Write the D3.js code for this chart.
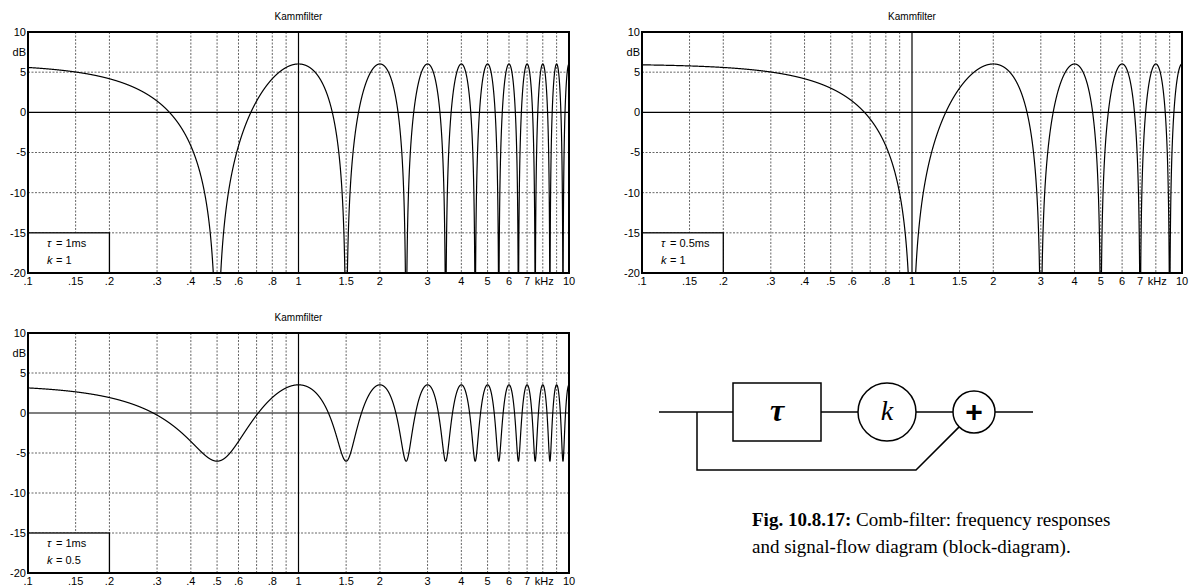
<!DOCTYPE html>
<html>
<head>
<meta charset="utf-8">
<script src="https://cdn.jsdelivr.net/npm/d3@7"></script>
<style>
  html, body { margin: 0; padding: 0; background: #fff; }
  svg { display: block; }
</style>
</head>
<body>
<svg id="chart" width="1191" height="588"></svg>
<script>
// ---------------- data ----------------
const panelTitles = ["Kammfilter", "Kammfilter", "Kammfilter"];
const panelTauMs = [1, 0.5, 1];          // delay time tau in ms
const panelK = [1, 1, 0.5];              // feedforward gain k
const tauLabels = ["= 1ms", "= 0.5ms", "= 1ms"];
const kLabels = ["= 1", "= 1", "= 0.5"];
const xTickValues = [0.1, 0.15, 0.2, 0.3, 0.4, 0.5, 0.6, 0.8, 1, 1.5, 2, 3, 4, 5, 6, 7, 10];
const xTickLabels = [".1", ".15", ".2", ".3", ".4", ".5", ".6", ".8", "1", "1.5", "2", "3", "4", "5", "6", "7", "10"];
const xGridValues = [0.15, 0.2, 0.3, 0.4, 0.5, 0.6, 0.7, 0.8, 0.9, 1.5, 2, 3, 4, 5, 6, 7, 8, 9];
const xUnitLabel = "kHz";
const xUnitAt = 8.1;
const yTickValues = [10, 5, 0, -5, -10, -15, -20];
const yTickLabels = ["10", "5", "0", "-5", "-10", "-15", "-20"];
const yGridValues = [5, -5, -10, -15];
const yUnitLabel = "dB";
const yUnitAt = 7.5;
const captionBold = "Fig. 10.8.17:";
const captionLine1 = " Comb-filter: frequency responses";
const captionLine2 = "and signal-flow diagram (block-diagram).";

// ---------------- layout ----------------
const svg = d3.select("#chart");
const layout = [
  { x0: 28, x1: 569, y0: 32, y1: 273 },
  { x0: 642, x1: 1182, y0: 32, y1: 273 },
  { x0: 28, x1: 569, y0: 333, y1: 573 }
];
const sansFont = "'Liberation Sans', Arial, Helvetica, sans-serif";
const serifFont = "'Liberation Serif', 'Times New Roman', serif";

// frequency sampling (log spaced, kHz)
const nSamples = 8000;
const freqs = d3.range(nSamples + 1).map(i => Math.pow(10, -1 + 2 * i / nSamples));

layout.forEach((L, pi) => {
  const x = d3.scaleLog().domain([0.1, 10]).range([L.x0, L.x1]);
  const y = d3.scaleLinear().domain([-20, 10]).range([L.y1, L.y0]);
  const g = svg.append("g");

  const clipId = "clip" + pi;
  svg.append("defs").append("clipPath").attr("id", clipId)
    .append("rect").attr("x", L.x0).attr("y", L.y0)
    .attr("width", L.x1 - L.x0).attr("height", L.y1 - L.y0);

  // grid
  g.selectAll("line.vg").data(xGridValues).enter().append("line")
    .attr("x1", d => x(d)).attr("x2", d => x(d))
    .attr("y1", L.y0).attr("y2", L.y1)
    .attr("stroke", "#666").attr("stroke-width", 1).attr("stroke-dasharray", "2,1.5");
  g.selectAll("line.hg").data(yGridValues).enter().append("line")
    .attr("x1", L.x0).attr("x2", L.x1)
    .attr("y1", d => y(d)).attr("y2", d => y(d))
    .attr("stroke", "#666").attr("stroke-width", 1).attr("stroke-dasharray", "2,1.5");
  // solid reference lines at 0 dB and 1 kHz
  g.append("line").attr("x1", L.x0).attr("x2", L.x1).attr("y1", y(0)).attr("y2", y(0))
    .attr("stroke", "#000").attr("stroke-width", 1.2);
  g.append("line").attr("x1", x(1)).attr("x2", x(1)).attr("y1", L.y0).attr("y2", L.y1)
    .attr("stroke", "#000").attr("stroke-width", 1.2);

  // legend box
  const lg = g.append("g");
  lg.append("rect").attr("x", L.x0).attr("y", y(-15))
    .attr("width", x(0.2) - L.x0).attr("height", y(-20) - y(-15))
    .attr("fill", "#fff").attr("stroke", "#000").attr("stroke-width", 1.3);
  const tx = L.x0 + 19;
  lg.append("text").attr("x", tx).attr("y", y(-15) + 14)
    .attr("font-family", sansFont).attr("font-size", 11).attr("font-style", "italic").text("τ");
  lg.append("text").attr("x", tx + 9).attr("y", y(-15) + 14)
    .attr("font-family", sansFont).attr("font-size", 11).text(tauLabels[pi]);
  lg.append("text").attr("x", tx).attr("y", y(-15) + 31)
    .attr("font-family", sansFont).attr("font-size", 11).attr("font-style", "italic").text("k");
  lg.append("text").attr("x", tx + 9).attr("y", y(-15) + 31)
    .attr("font-family", sansFont).attr("font-size", 11).text(kLabels[pi]);

  // curve
  const tau = panelTauMs[pi], k = panelK[pi];
  const resp = freqs.map(f => {
    const p = 1 + k * k + 2 * k * Math.cos(2 * Math.PI * f * tau);
    return [f, Math.max(10 * Math.log10(Math.max(p, 1e-12)), -60)];
  });
  g.append("path").datum(resp)
    .attr("clip-path", `url(#${clipId})`)
    .attr("fill", "none").attr("stroke", "#000").attr("stroke-width", 1.2)
    .attr("stroke-linejoin", "round")
    .attr("d", d3.line().x(d => x(d[0])).y(d => y(d[1])));

  // frame
  g.append("rect").attr("x", L.x0).attr("y", L.y0)
    .attr("width", L.x1 - L.x0).attr("height", L.y1 - L.y0)
    .attr("fill", "none").attr("stroke", "#000").attr("stroke-width", 2);

  // x tick labels
  g.selectAll("text.xt").data(xTickValues).enter().append("text")
    .attr("x", d => x(d)).attr("y", L.y1 + 12)
    .attr("text-anchor", "middle")
    .attr("font-family", sansFont).attr("font-size", 11)
    .text((d, i) => xTickLabels[i]);
  g.append("text").attr("x", x(xUnitAt)).attr("y", L.y1 + 12)
    .attr("text-anchor", "middle")
    .attr("font-family", sansFont).attr("font-size", 11).text(xUnitLabel);

  // y tick labels
  g.selectAll("text.yt").data(yTickValues).enter().append("text")
    .attr("x", L.x0 - 2).attr("y", d => y(d)).attr("dy", "0.35em")
    .attr("text-anchor", "end")
    .attr("font-family", sansFont).attr("font-size", 11)
    .text((d, i) => yTickLabels[i]);
  g.append("text").attr("x", L.x0 - 2).attr("y", y(yUnitAt)).attr("dy", "0.35em")
    .attr("text-anchor", "end")
    .attr("font-family", sansFont).attr("font-size", 11).text(yUnitLabel);

  // title
  g.append("text").attr("x", (L.x0 + L.x1) / 2).attr("y", L.y0 - 12)
    .attr("text-anchor", "middle")
    .attr("font-family", sansFont).attr("font-size", 10).text(panelTitles[pi]);
});

// ---------------- block diagram ----------------
const dg = svg.append("g").attr("stroke", "#000").attr("stroke-width", 1.5).attr("fill", "none");
const yc = 412;
const box = { x: 733, y: 383, w: 88, h: 58 };
const kC = { cx: 887, r: 29 };
const sC = { cx: 974, r: 21 };
const tapX = 697, fbY = 470, fbX = 916, outX = 1033, inX = 659;

dg.append("line").attr("x1", inX).attr("x2", box.x).attr("y1", yc).attr("y2", yc);
dg.append("rect").attr("x", box.x).attr("y", box.y).attr("width", box.w).attr("height", box.h);
dg.append("line").attr("x1", box.x + box.w).attr("x2", kC.cx - kC.r).attr("y1", yc).attr("y2", yc);
dg.append("circle").attr("cx", kC.cx).attr("cy", yc).attr("r", kC.r);
dg.append("line").attr("x1", kC.cx + kC.r).attr("x2", sC.cx - sC.r).attr("y1", yc).attr("y2", yc);
dg.append("circle").attr("cx", sC.cx).attr("cy", yc).attr("r", sC.r);
dg.append("line").attr("x1", sC.cx + sC.r).attr("x2", outX).attr("y1", yc).attr("y2", yc);
const ang = Math.atan2(fbY - yc, fbX - sC.cx);
dg.append("polyline").attr("points", [
  [tapX, yc], [tapX, fbY], [fbX, fbY],
  [sC.cx + sC.r * Math.cos(ang), yc + sC.r * Math.sin(ang)]
].map(p => p.join(",")).join(" "));

svg.append("text").attr("x", box.x + box.w / 2).attr("y", yc + 9)
  .attr("text-anchor", "middle").attr("font-family", serifFont)
  .attr("font-size", 32).attr("font-weight", "bold").attr("font-style", "italic").text("τ");
svg.append("text").attr("x", kC.cx).attr("y", yc + 8)
  .attr("text-anchor", "middle").attr("font-family", serifFont)
  .attr("font-size", 28).attr("font-style", "italic").text("k");
svg.append("text").attr("x", sC.cx).attr("y", yc + 10)
  .attr("text-anchor", "middle").attr("font-family", sansFont)
  .attr("font-size", 30).attr("font-weight", "bold").text("+");

// ---------------- caption ----------------
const cap = svg.append("text").attr("x", 752).attr("y", 526)
  .attr("font-family", serifFont).attr("font-size", 19);
cap.append("tspan").attr("font-weight", "bold").text(captionBold);
cap.append("tspan").text(captionLine1);
svg.append("text").attr("x", 752).attr("y", 553)
  .attr("font-family", serifFont).attr("font-size", 19).text(captionLine2);
</script>
</body>
</html>
